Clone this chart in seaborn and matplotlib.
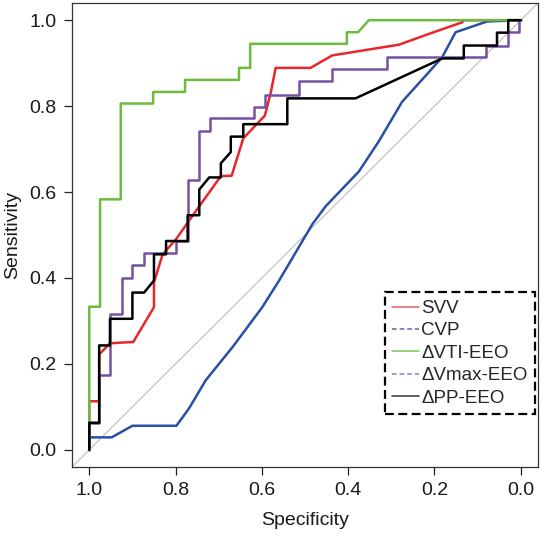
import numpy as np
import pandas as pd
import matplotlib
matplotlib.use('Agg')
import matplotlib.pyplot as plt
from matplotlib.lines import Line2D
import seaborn as sns

sns.set_theme(style='white')
plt.rcParams['font.family'] = ['Liberation Sans', 'DejaVu Sans']

# ROC curves (specificity, sensitivity)
svv_spec = [1.0, 1.0, 0.977, 0.977, 0.952, 0.898, 0.85, 0.85, 0.83, 0.799, 0.745, 0.695,
            0.670, 0.643, 0.593, 0.579, 0.568, 0.487, 0.437, 0.282, 0.213, 0.136, 0.132, 0.0]
svv_sens = [0.0, 0.113, 0.113, 0.222, 0.248, 0.251, 0.332, 0.39, 0.455, 0.49, 0.567, 0.637,
            0.638, 0.725, 0.778, 0.833, 0.889, 0.889, 0.918, 0.943, 0.968, 0.995, 1.0, 1.0]

cvp_spec = [1.0, 1.0, 0.948, 0.9, 0.798, 0.769, 0.730, 0.668, 0.599, 0.560, 0.483, 0.452,
            0.375, 0.329, 0.275, 0.213, 0.182, 0.151, 0.078, 0.0]
cvp_sens = [0.0, 0.029, 0.029, 0.056, 0.056, 0.096, 0.162, 0.239, 0.332, 0.394, 0.525, 0.567,
            0.648, 0.718, 0.81, 0.879, 0.914, 0.972, 0.997, 1.0]

vti_spec = [1.0, 1.0, 0.975, 0.975, 0.927, 0.927, 0.852, 0.852, 0.778, 0.778, 0.653, 0.653,
            0.627, 0.627, 0.403, 0.403, 0.377, 0.352, 0.0]
vti_sens = [0.0, 0.333, 0.333, 0.583, 0.583, 0.806, 0.806, 0.833, 0.833, 0.861, 0.861, 0.889,
            0.889, 0.945, 0.945, 0.972, 0.972, 1.0, 1.0]

vmax_spec = [1.0, 1.0, 0.977, 0.977, 0.952, 0.952, 0.925, 0.925, 0.900, 0.900, 0.874, 0.874,
             0.798, 0.798, 0.772, 0.772, 0.745, 0.745, 0.72, 0.72, 0.618, 0.618, 0.593, 0.593,
             0.515, 0.515, 0.438, 0.438, 0.311, 0.311, 0.080, 0.080, 0.030, 0.030, 0.003, 0.003, 0.0]
vmax_sens = [0.0, 0.062, 0.062, 0.174, 0.174, 0.316, 0.316, 0.401, 0.401, 0.430, 0.430, 0.458,
             0.458, 0.486, 0.486, 0.629, 0.629, 0.742, 0.742, 0.772, 0.772, 0.799, 0.799, 0.827,
             0.827, 0.858, 0.858, 0.886, 0.886, 0.914, 0.914, 0.941, 0.941, 0.972, 0.972, 1.0, 1.0]

pp_spec = [1.0, 1.0, 0.977, 0.977, 0.952, 0.952, 0.9, 0.9, 0.873, 0.85, 0.85, 0.822, 0.822,
           0.772, 0.772, 0.745, 0.745, 0.722, 0.695, 0.695, 0.672, 0.672, 0.643, 0.643, 0.541,
           0.541, 0.383, 0.182, 0.132, 0.132, 0.055, 0.055, 0.029, 0.029, 0.0]
pp_sens = [0.0, 0.063, 0.063, 0.243, 0.243, 0.305, 0.305, 0.366, 0.366, 0.394, 0.455, 0.455,
           0.486, 0.486, 0.546, 0.546, 0.606, 0.634, 0.634, 0.667, 0.693, 0.729, 0.729, 0.758,
           0.758, 0.818, 0.818, 0.911, 0.911, 0.941, 0.941, 0.971, 0.971, 1.0, 1.0]

curve_names = ['SVV', 'CVP', '\u0394VTI-EEO', '\u0394Vmax-EEO', '\u0394PP-EEO']
curve_data = [(svv_spec, svv_sens), (cvp_spec, cvp_sens), (vti_spec, vti_sens),
              (vmax_spec, vmax_sens), (pp_spec, pp_sens)]
colors = ['#E8262B', '#2A4FA6', '#6DBB3F', '#7650A2', '#000000']
legend_colors = ['#E06666', '#4A6CC0', '#7CC457', '#9A78C0', '#333333']
legend_styles = ['-', (0, (3, 2)), '-', (0, (3, 2)), '-']

frames = []
for name, (sp, se) in zip(curve_names, curve_data):
    frames.append(pd.DataFrame({'spec': sp, 'sens': se, 'curve': name}))
df = pd.concat(frames, ignore_index=True)

fig = plt.figure(figsize=(5.44, 5.37), dpi=100)
ax = fig.add_axes([72 / 544, 1 - 467 / 537, 466 / 544, 464 / 537])

# chance line
ax.axline((1, 0), (0, 1), color='#BDBDBD', lw=0.8, zorder=1)

sns.lineplot(data=df, x='spec', y='sens', hue='curve', hue_order=curve_names,
             palette=dict(zip(curve_names, colors)), sort=False, estimator=None,
             linewidth=1.8, legend=False, ax=ax, zorder=2)

ax.set_xlim(1.04, -0.04)
ax.set_ylim(-0.04, 1.04)
ticks = [0.0, 0.2, 0.4, 0.6, 0.8, 1.0]
ax.set_xticks(ticks)
ax.set_yticks(ticks)
ax.set_xticklabels([f'{t:.1f}' for t in ticks])
ax.set_yticklabels([f'{t:.1f}' for t in ticks])
ax.tick_params(direction='out', length=6, width=0.9, color='#222222', pad=5,
               labelsize=14, labelcolor='#1a1a1a', bottom=True, left=True)
ax.set_xlabel('Specificity', fontsize=14, labelpad=9, color='#1a1a1a')
ax.set_ylabel('Sensitivity', fontsize=14, labelpad=6, color='#1a1a1a')
for s in ax.spines.values():
    s.set_color('#333333')
    s.set_linewidth(0.9)

handles = [Line2D([0], [0], color=c, lw=1.1, linestyle=ls)
           for c, ls in zip(legend_colors, legend_styles)]
leg = ax.legend(handles, curve_names, loc='lower right', bbox_to_anchor=(0.994, 0.114),
                borderaxespad=0, fontsize=13.5, frameon=True, fancybox=False,
                handlelength=1.45, handletextpad=0.1, labelspacing=0.28,
                borderpad=0.4, framealpha=1)
fr = leg.get_frame()
fr.set_edgecolor('black')
fr.set_linewidth(1.6)
fr.set_linestyle((0, (4, 2)))

fig.savefig('out.png', dpi=100)
